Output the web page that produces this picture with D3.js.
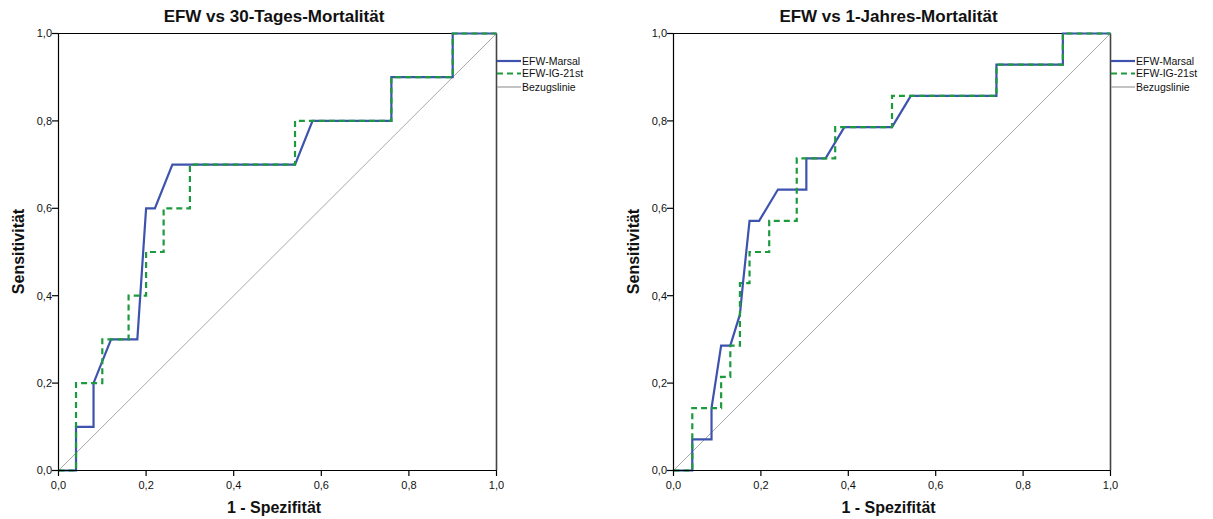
<!DOCTYPE html>
<html>
<head>
<meta charset="utf-8">
<script src="https://cdn.jsdelivr.net/npm/d3@7"></script>
<style>
  html, body { margin: 0; padding: 0; background: #fff; }
  svg { display: block; font-family: "Liberation Sans", Arial, sans-serif; }
</style>
</head>
<body>
<svg id="chart" width="1213" height="519"></svg>
<script>
// ---- data ----
const ticks = [0, 0.2, 0.4, 0.6, 0.8, 1.0];
const tickLabels = ["0,0", "0,2", "0,4", "0,6", "0,8", "1,0"];
const seriesNames = ["EFW-Marsal", "EFW-IG-21st", "Bezugslinie"];

// Chart 1: 30-Tages-Mortalität
const c1Title = "EFW vs 30-Tages-Mortalität";
const c1MarsalX = [0, 0.04, 0.04, 0.08, 0.08, 0.12, 0.18, 0.20, 0.22, 0.26, 0.54, 0.58, 0.76, 0.76, 0.90, 0.90, 1.0];
const c1MarsalY = [0, 0, 0.1, 0.1, 0.2, 0.3, 0.3, 0.6, 0.6, 0.7, 0.7, 0.8, 0.8, 0.9, 0.9, 1.0, 1.0];
const c1IGX = [0, 0.04, 0.04, 0.10, 0.10, 0.16, 0.16, 0.20, 0.20, 0.24, 0.24, 0.30, 0.30, 0.54, 0.54, 0.76, 0.76, 0.90, 0.90, 1.0];
const c1IGY = [0, 0, 0.2, 0.2, 0.3, 0.3, 0.4, 0.4, 0.5, 0.5, 0.6, 0.6, 0.7, 0.7, 0.8, 0.8, 0.9, 0.9, 1.0, 1.0];

// Chart 2: 1-Jahres-Mortalität
const c2Title = "EFW vs 1-Jahres-Mortalität";
const c2MarsalX = [0, 0.043, 0.043, 0.087, 0.087, 0.109, 0.130, 0.152, 0.159, 0.174, 0.196, 0.239, 0.304, 0.304, 0.348, 0.391, 0.500, 0.543, 0.739, 0.739, 0.891, 0.891, 1.0];
const c2MarsalY = [0, 0, 0.0714, 0.0714, 0.1429, 0.2857, 0.2857, 0.3571, 0.4286, 0.5714, 0.5714, 0.6429, 0.6429, 0.7143, 0.7143, 0.7857, 0.7857, 0.8571, 0.8571, 0.9286, 0.9286, 1.0, 1.0];
const c2IGX = [0, 0.043, 0.043, 0.109, 0.109, 0.130, 0.130, 0.152, 0.152, 0.174, 0.174, 0.219, 0.219, 0.282, 0.282, 0.370, 0.370, 0.500, 0.500, 0.739, 0.739, 0.891, 0.891, 1.0];
const c2IGY = [0, 0, 0.1429, 0.1429, 0.2143, 0.2143, 0.2857, 0.2857, 0.4286, 0.4286, 0.5, 0.5, 0.5714, 0.5714, 0.7143, 0.7143, 0.7857, 0.7857, 0.8571, 0.8571, 0.9286, 0.9286, 1.0, 1.0];

const refX = [0, 1];
const refY = [0, 1];

const xLabel = "1 - Spezifität";
const yLabel = "Sensitivität";

// ---- drawing ----
const svg = d3.select("#chart");
const BLUE = "#3D53AE", GREEN = "#1E9A3E", GRAY = "#A9A9A9";

function zip(xs, ys) { return xs.map((x, i) => [x, ys[i]]); }

function drawChart(left, width, title, mX, mY, gX, gY) {
  const top = 33, height = 437;
  const x = d3.scaleLinear().domain([0, 1]).range([0, width]);
  const y = d3.scaleLinear().domain([0, 1]).range([height, 0]);
  const g = svg.append("g").attr("transform", `translate(${left},${top})`);

  // frame (top + right)
  g.append("rect").attr("x", 0.5).attr("y", 0.5).attr("width", width).attr("height", height)
    .attr("fill", "none").attr("stroke", "#000").attr("stroke-width", 1);
  g.append("line").attr("x1", width + 0.5).attr("x2", width + 0.5).attr("y1", 0.5).attr("y2", height)
    .attr("stroke", "#444").attr("stroke-width", 1.6);

  const line = d3.line().x(d => x(d[0]) + 0.5).y(d => y(d[1]) + 0.5);

  // reference line
  g.append("path").datum(zip(refX, refY)).attr("d", line)
    .attr("fill", "none").attr("stroke", GRAY).attr("stroke-width", 1);
  // Marsal
  g.append("path").datum(zip(mX, mY)).attr("d", line)
    .attr("fill", "none").attr("stroke", BLUE).attr("stroke-width", 2.2).attr("stroke-linejoin", "miter");
  // IG-21st
  g.append("path").datum(zip(gX, gY)).attr("d", line)
    .attr("fill", "none").attr("stroke", GREEN).attr("stroke-width", 2.2)
    .attr("stroke-dasharray", "6,4");

  const fmt = d => tickLabels[ticks.indexOf(d)];

  const xAxis = g.append("g").attr("transform", `translate(0,${height})`)
    .call(d3.axisBottom(x).tickValues(ticks).tickFormat(fmt).tickSize(6).tickSizeOuter(0));
  const yAxis = g.append("g")
    .call(d3.axisLeft(y).tickValues(ticks).tickFormat(fmt).tickSize(6).tickSizeOuter(0));
  [xAxis, yAxis].forEach(a => {
    a.selectAll("path.domain").attr("stroke", "#000").attr("stroke-width", 1.2);
    a.selectAll(".tick line").attr("stroke", "#000").attr("stroke-width", 1.2);
    a.selectAll(".tick text").attr("fill", "#111").style("font-size", "11px")
      .style("font-family", '"Liberation Sans", Arial, sans-serif');
  });
  xAxis.selectAll(".tick text").attr("dy", "0.9em");
  yAxis.selectAll(".tick text").attr("x", -6).attr("dy", "0.35em");

  // title
  g.append("text").attr("x", width / 2 - 3).attr("y", -11).attr("text-anchor", "middle")
    .style("font-size", "17px").style("font-weight", "bold").attr("fill", "#111").text(title);
  // x label
  g.append("text").attr("x", width / 2 - 3).attr("y", height + 43).attr("text-anchor", "middle")
    .style("font-size", "16px").style("font-weight", "bold").attr("fill", "#111").text(xLabel);
  // y label
  g.append("text").attr("transform", `translate(-34,${height / 2}) rotate(-90)`)
    .attr("text-anchor", "middle")
    .style("font-size", "16px").style("font-weight", "bold").attr("fill", "#111").text(yLabel);

  // legend
  const lg = g.append("g").attr("transform", `translate(${width + 1},0)`);
  const styles = [
    { c: BLUE, w: 2.2, d: null },
    { c: GREEN, w: 2.2, d: "6,4" },
    { c: GRAY, w: 1.4, d: null }
  ];
  const ly = [28, 40.5, 54];
  seriesNames.forEach((n, i) => {
    lg.append("line").attr("x1", 0).attr("x2", 24).attr("y1", ly[i]).attr("y2", ly[i])
      .attr("stroke", styles[i].c).attr("stroke-width", styles[i].w)
      .attr("stroke-dasharray", styles[i].d);
    lg.append("text").attr("x", 25).attr("y", ly[i]).attr("dy", "0.35em")
      .style("font-size", "10.5px").attr("fill", "#111").text(n);
  });
}

drawChart(58, 438, c1Title, c1MarsalX, c1MarsalY, c1IGX, c1IGY);
drawChart(673, 437, c2Title, c2MarsalX, c2MarsalY, c2IGX, c2IGY);
</script>
</body>
</html>
